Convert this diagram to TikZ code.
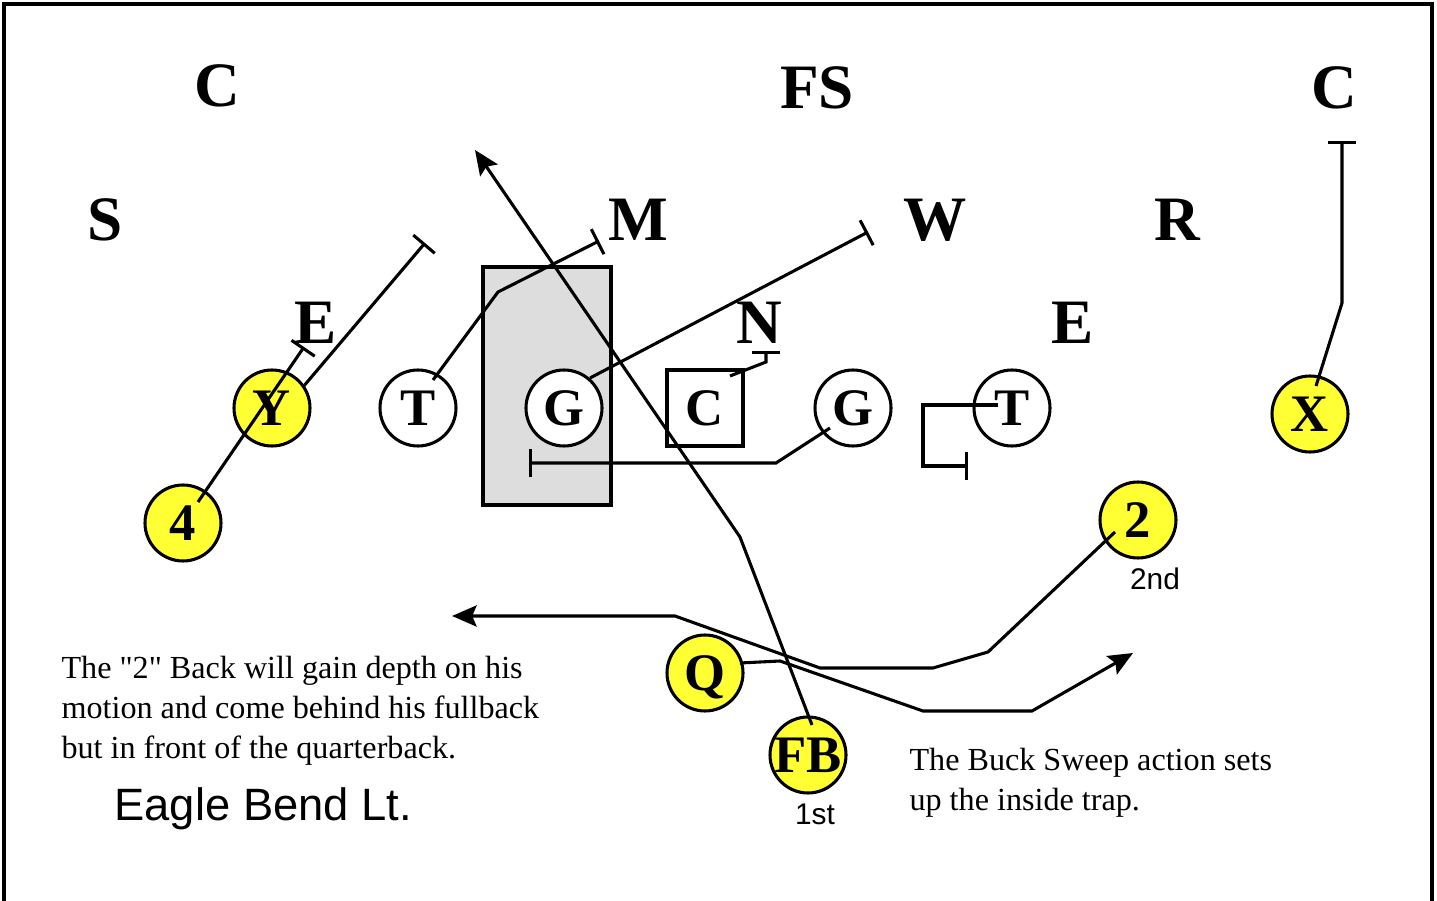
\documentclass[tikz,border=0pt]{standalone}
\usepackage{fontspec}
\setmainfont{Liberation Serif}
\setsansfont{Liberation Sans}
\usetikzlibrary{arrows.meta,calc}

\definecolor{ballyellow}{RGB}{255,255,51}
\definecolor{trapgray}{RGB}{221,221,221}

\tikzset{
  defense/.style={font=\fontsize{36}{40}\selectfont\bfseries, inner sep=0pt, text depth=0pt},
  lineman/.style={circle, draw, fill=white, minimum size=1.52cm, inner sep=0pt,
    font=\fontsize{30}{32}\selectfont\bfseries, text depth=0pt},
  back/.style={lineman, fill=ballyellow},
  note/.style={font=\fontsize{18.3}{22.8}\selectfont, align=left, inner sep=0pt},
  tag/.style={font=\sffamily\fontsize{17}{20}\selectfont, inner sep=0pt},
  block/.style={-{Bar[width=16pt]}},
  run/.style={-{Stealth[length=14pt,width=12pt,inset=2.5pt]}}
}

\begin{document}
\begin{tikzpicture}[x=0.02cm, y=-0.02cm, line width=1.75pt]
  \useasboundingbox (0,0) rectangle (1437,901);
  \draw (4,905) -- (4,4) -- (1432,4) -- (1432,905);

  % defense
  \node[defense] (cleft) at (217,86) {C};
  \node[defense] (fs) at (817,88) {FS};
  \node[defense] (cright) at (1334,88) {C};
  \node[defense] (s) at (105,220) {S};
  \node[defense] (m) at (638,220) {M};
  \node[defense] (w) at (935,220) {W};
  \node[defense] (r) at (1177,220) {R};
  \node[defense] (eleft) at (316,323) {E};
  \node[defense] (t) at (525,323) {T};
  \node[defense] (n) at (759,323) {N};
  \node[defense] (eright) at (1073,323) {E};

  % trap area
  \draw[fill=trapgray] (483,267) rectangle (611,505);

  % offense
  \node[back] (y) at (272,408) {Y};
  \node[lineman] (lt) at (418,408) {T};
  \node[lineman] (lg) at (564,408) {G};
  \node[lineman, rectangle] (c) at (705,408) {C};
  \node[lineman] (rg) at (853,408) {G};
  \node[lineman] (rt) at (1012,408) {T};
  \node[back] (x) at (1310,414) {X};
  \node[back] (four) at (183,523) {4};
  \node[back] (two) at (1138,520) {2};
  \node[back] (q) at (705,673) {Q};
  \node[back] (fb) at (808,755) {FB};
  \node[tag, anchor=base] (second) at (1155,590) {2nd};
  \node[tag, anchor=base] (first) at (815,825) {1st};

  % blocks
  \coordinate (yend) at (425,243);
  \coordinate (fourend) at (304,347);
  \coordinate (ltend) at (599,241);
  \coordinate (lgend) at (868,232);
  \coordinate (cend) at (766,351);
  \coordinate (rgend) at (529,463);
  \coordinate (rtend) at (968,466);
  \coordinate (xend) at (1342,141);
  \draw[block] ($(y)+(31,-21)$) -- (yend);
  \draw[block] ($(four)+(15,-21)$) -- (fourend);
  \draw[block] ($(lt)+(15,-28)$) -- (498,292) -- (ltend);
  \draw[block] ($(lg)+(26,-30)$) -- (lgend);
  \draw[block] ($(c)+(25,-32)$) -- (766,362) -- (cend);
  \draw[block] ($(rg)+(-23,20)$) -- (776,463) -- (rgend);
  \draw[block] ($(rt)+(-14,-3)$) -- (923,405) -- (923,466) -- (rtend);
  \draw[block] ($(x)+(6,-28)$) -- (1342,303) -- (xend);

  % backs
  \coordinate (fbend) at (475,150);
  \coordinate (twoend) at (452,616);
  \coordinate (qend) at (1133,653);
  \draw[run] ($(fb)+(4,-30)$) -- (740,537) -- (fbend);
  \draw[run] ($(two)+(-23,12)$) -- (988,652) -- (933,668) -- (820,668)
    -- (675,616) -- (twoend);
  \draw[run] ($(q)+(35,-10)$) -- (780,661) -- (923,711) -- (1032,711) -- (qend);

  % notes
  \node[note, anchor=north west] (motion) at (60,655)
    {The \textquotedbl 2\textquotedbl{} Back will gain depth on his\\motion and come behind his fullback\\but in front of the quarterback.};
  \node[note, anchor=north west] (buck) at (908,747)
    {The Buck Sweep action sets\\up the inside trap.};
  \node[font=\sffamily\fontsize{25.8}{30}\selectfont, anchor=base west, inner sep=0pt]
    (title) at (113,820) {Eagle Bend Lt.};
\end{tikzpicture}
\end{document}
